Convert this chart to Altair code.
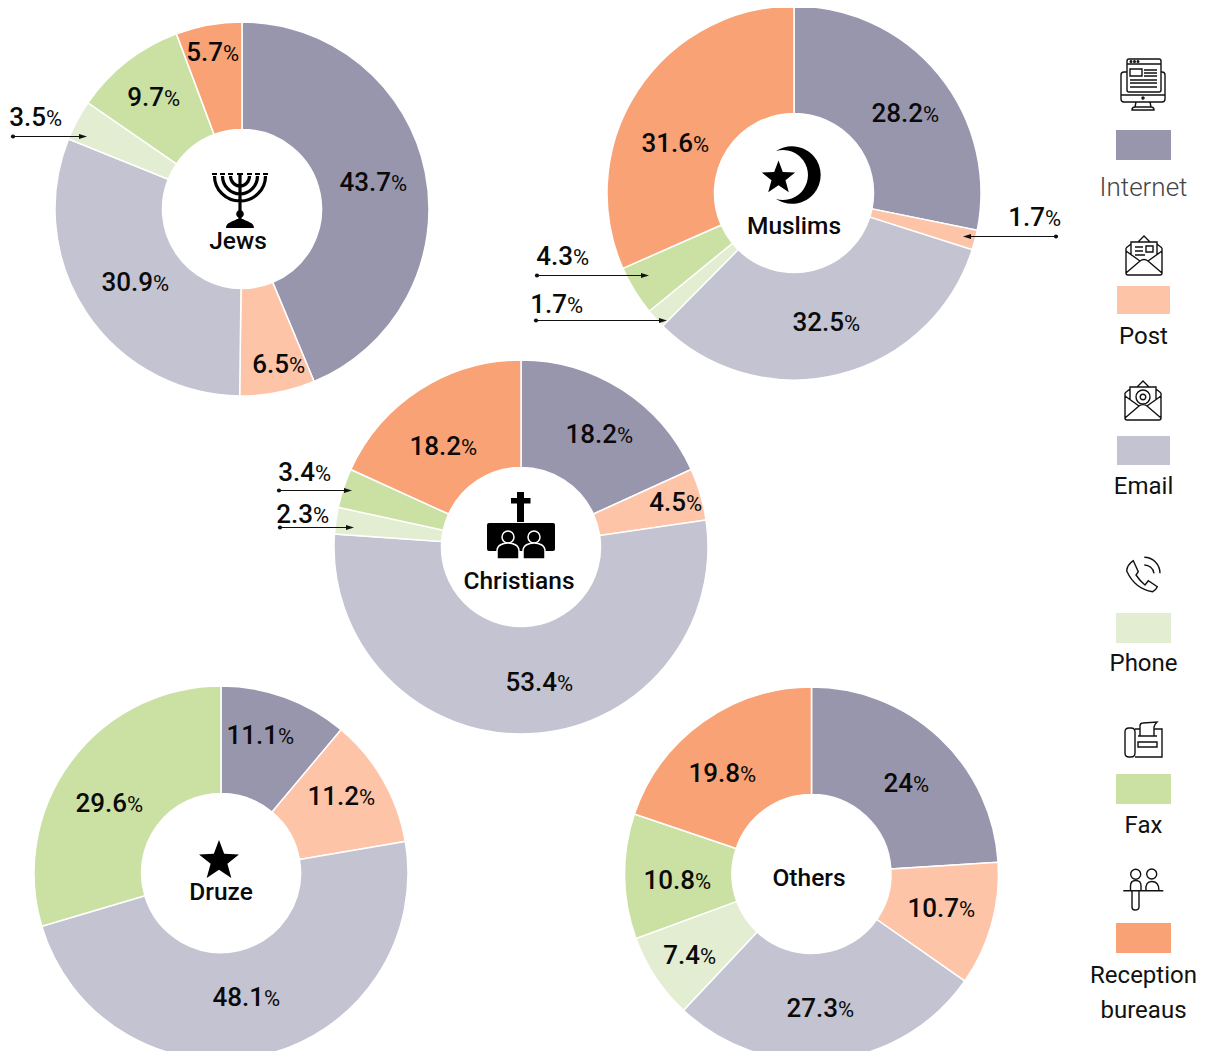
import math
import altair as alt
import pandas as pd

CATS = ["Internet", "Post", "Email", "Phone", "Fax", "Reception bureaus"]
COLORS = ["#9896AD", "#FDC4A8", "#C3C3D1", "#E2EDD1", "#CBE0A3", "#F9A276"]

JEWS = [43.7, 6.5, 30.9, 3.5, 9.7, 5.7]
MUSLIMS = [28.2, 1.7, 32.5, 1.7, 4.3, 31.6]
CHRISTIANS = [18.2, 4.5, 53.4, 2.3, 3.4, 18.2]
DRUZE = [11.1, 11.2, 48.1, 0, 29.6, 0]
OTHERS = [24, 10.7, 27.3, 7.4, 10.8, 19.8]

SERIES = {"Jews": JEWS, "Muslims": MUSLIMS, "Christians": CHRISTIANS, "Druze": DRUZE, "Others": OTHERS}

# layout (page pixels) -------------------------------------------------------
OFF = 8
CENTERS = {"Jews": (242, 209), "Muslims": (794, 193), "Christians": (521, 547), "Druze": (221, 873), "Others": (811.5, 874)}
NAME_AT = {"Jews": (238, 242), "Muslims": (794, 227), "Christians": (519, 582), "Druze": (221, 893), "Others": (809, 879)}
# split between number and % sign, and vertical centre of the digits
LABEL_AT = {
    "Jews": [(391, 182), (289, 364), (153, 282), (46, 117), (164, 97), (223, 52)],
    "Muslims": [(923, 113), (1045, 217), (844, 322), (567, 304), (573, 256), (693, 143)],
    "Christians": [(617, 434), (686, 502), (557, 682), (313, 514), (315, 472), (461, 446)],
    "Druze": [(278, 735), (359, 796), (264, 997), None, (127, 803), None],
    "Others": [(913, 783), (959, 908), (838, 1008), (700, 955), (695, 880), (740, 773)],
}
ARROWS = [(13, 85, 136.5), (1056, 965, 236.5), (537, 647, 275.5), (536, 665, 320.5), (279, 350, 490.5), (280, 352, 527.5)]
LEGEND_RECTS = [(1116, 1171, 130, 160), (1117, 1170, 286, 314), (1117, 1170, 436, 465), (1116, 1171, 613, 643), (1116, 1171, 774, 804), (1116, 1171, 923, 953)]
LEGEND_TEXT = [("Internet", 188), ("Post", 337), ("Email", 487), ("Phone", 664), ("Fax", 826), ("Reception", 976), ("bureaus", 1011)]
OUTER, INNER = 187, 79.5
FONT = "Roboto"

one = pd.DataFrame({"a": [0]})
layers = []

# donuts
for name, vals in SERIES.items():
    rows, acc = [], 0.0
    for c, v in zip(CATS, vals):
        if v > 0:
            rows.append({"cat": c, "start": acc, "end": acc + v})
        acc += v
    cx, cy = CENTERS[name]
    layers.append(
        alt.Chart(pd.DataFrame(rows)).mark_arc(radius=OUTER, radius2=INNER, stroke="white", strokeWidth=1.5).encode(
            x=alt.value(cx - OFF), y=alt.value(cy - OFF),
            theta=alt.Theta("start:Q", scale=alt.Scale(domain=[0, 100], range=[0, 2 * math.pi])),
            theta2="end:Q",
            color=alt.Color("cat:N", scale=alt.Scale(domain=CATS, range=COLORS), legend=None),
        )
    )

# value labels
lab = []
for name, vals in SERIES.items():
    for v, at in zip(vals, LABEL_AT[name]):
        if at is not None:
            lab.append({"n": f"{v:g}", "lx": at[0] - OFF, "ly": at[1] + 9 - OFF})
lab = pd.DataFrame(lab)
X = alt.X("lx:Q", scale=None)
Y = alt.Y("ly:Q", scale=None)
layers.append(alt.Chart(lab).mark_text(align="right", baseline="alphabetic", font=FONT, fontSize=26, fontWeight=500, color="#0a0a0a").encode(x=X, y=Y, text="n:N"))
layers.append(alt.Chart(lab).mark_text(align="left", baseline="alphabetic", font=FONT, fontSize=22, fontWeight=400, color="#0a0a0a").encode(x=X, y=Y, text=alt.value("%")))

# arrows
for x0, x1, y in ARROWS:
    layers.append(alt.Chart(one).mark_rule(color="#111", strokeWidth=1).encode(x=alt.value(x0 - OFF), x2=alt.value(x1 - OFF), y=alt.value(y - OFF)))
    layers.append(alt.Chart(one).mark_point(shape="circle", filled=True, color="#111", size=18, opacity=1).encode(x=alt.value(x0 - OFF), y=alt.value(y - OFF)))
    d = 1 if x1 > x0 else -1
    layers.append(alt.Chart(one).mark_point(shape=f"M{d*2},0 L{-d*6},-2.6 L{-d*6},2.6 Z", filled=True, color="#111", size=4, opacity=1).encode(x=alt.value(x1 - OFF), y=alt.value(y - OFF)))

# donut names
for name, (x, y) in NAME_AT.items():
    layers.append(alt.Chart(one).mark_text(text=name, font=FONT, fontSize=24.5, fontWeight=500, align="center", baseline="middle", color="#0a0a0a").encode(x=alt.value(x - OFF), y=alt.value(y - OFF)))

# legend
for (x0, x1, y0, y1), c in zip(LEGEND_RECTS, COLORS):
    layers.append(alt.Chart(one).mark_rect(color=c).encode(x=alt.value(x0 - OFF), x2=alt.value(x1 - OFF), y=alt.value(y0 - OFF), y2=alt.value(y1 - OFF)))
for t, y in LEGEND_TEXT:
    light = t == "Internet"
    layers.append(alt.Chart(one).mark_text(text=t, font=FONT, fontSize=26 if light else 24, fontWeight=300 if light else 400, align="center", baseline="middle", color="#444" if light else "#111").encode(x=alt.value(1143.5 - OFF), y=alt.value(y - OFF)))


# icons -----------------------------------------------------------------------
def circle(x, y, r):
    return f"M{x - r},{y} A{r},{r} 0 1 1 {x + r},{y} A{r},{r} 0 1 1 {x - r},{y} Z"


def rrect(x0, y0, x1, y1, r):
    return (f"M{x0 + r},{y0} L{x1 - r},{y0} Q{x1},{y0} {x1},{y0 + r} L{x1},{y1 - r} Q{x1},{y1} {x1 - r},{y1} "
            f"L{x0 + r},{y1} Q{x0},{y1} {x0},{y1 - r} L{x0},{y0 + r} Q{x0},{y0} {x0 + r},{y0} Z")


def star(r):
    pts = []
    for i in range(10):
        rr = r if i % 2 == 0 else r * 0.42
        a = math.pi * i / 5
        pts.append(f"{rr * math.sin(a):.2f},{-rr * math.cos(a):.2f}")
    return "M" + " L".join(pts) + " Z"


def icon(path, x, y, fill=None, stroke=None, sw=1.5):
    kw = {"shape": path, "size": 4, "opacity": 1}
    if fill:
        kw.update(filled=True, fill=fill)
    else:
        kw.update(filled=False, fill="transparent")
    if stroke:
        kw.update(stroke=stroke, strokeWidth=sw)
    else:
        kw.update(strokeWidth=0)
    layers.append(alt.Chart(one).mark_point(**kw).encode(x=alt.value(x - OFF), y=alt.value(y - OFF)))


# menorah
MEN = (240, 200)
icon("M-25.5,-24 A25.5,25 0 0 0 25.5,-24 M-17.5,-24 A17.5,18 0 0 0 17.5,-24 M-9.5,-24 A9.5,10 0 0 0 9.5,-24 M0,-25 L0,20", *MEN, stroke="#000", sw=3.2)
icon("M-28,-26 L-23,-26 M-20,-26 L-15,-26 M-12,-26 L-7,-26 M-3,-26 L3,-26 M7,-26 L12,-26 M15,-26 L20,-26 M23,-26 L28,-26", *MEN, stroke="#000", sw=2)
icon(circle(0, 14, 3.8) + " M-14,28 C-14,22 -7,22 -3,19 L3,19 C7,22 14,22 14,28 Z", *MEN, fill="#000")
# crescent and star
icon("M-16,-24 A28.8,28.8 0 1 1 -16,24 A25,25 0 1 0 -16,-24 Z", 792, 175, fill="#000")
icon(star(17.5), 778.5, 178, fill="#000")
# church
icon("M-3.5,-25 L3.5,-25 L3.5,-19 L10,-19 L10,-13.5 L3.5,-13.5 L3.5,5 L-3.5,5 L-3.5,-13.5 L-9.5,-13.5 L-9.5,-19 L-3.5,-19 Z", 520.5, 517, fill="#000")
icon(rrect(-34, -14, 34, 14, 2), 521, 537, fill="#000")
for px in (508, 534):
    icon(circle(0, 0, 6), px, 537, fill="#000", stroke="#fff", sw=1.5)
    icon("M-11,16 L-11,8 C-11,2 -5,0 0,0 C5,0 11,2 11,8 L11,16 Z", px, 543, fill="#000", stroke="#fff", sw=1.5)
# druze star
icon(star(21), 219, 861, fill="#000")

# monitor
IC = dict(stroke="#111", sw=1.4)
icon(rrect(-16, -26, 18, 7, 2) + " M-16,-21 L18,-21 " + rrect(-13, -16, -1, -9, 0) +
     " M1,-15 L14,-15 M1,-12 L14,-12 M1,-9 L14,-9 M-13,-5 L14,-5 M-13,-2 L14,-2 M-13,2 L14,2" +
     " M-16,-13 L-19,-13 Q-22,-13 -22,-10 L-22,14 Q-22,17 -19,17 L19,17 Q22,17 22,14 L22,-10 Q22,-13 19,-13 L18,-13" +
     " M-22,10 L-16,10 M18,10 L22,10 M-16,10 L18,10 M-7,17 L-8,22 M7,17 L8,22 M-11,25 Q-11,22 -8,22 L8,22 Q11,22 11,25 Z" +
     circle(0, 13, 1) + circle(-12, -23.5, 0.8) + circle(-8.5, -23.5, 0.8) + circle(-5, -23.5, 0.8), 1143, 85, **IC)
ENV = ("M-18,-8 L-18,17 Q-18,19 -16,19 L16,19 Q18,19 18,17 L18,-8 M-18,17 L-4,5 Q0,2 4,5 L18,17 "
       "M-18,-8 L-13,-12 M18,-8 L13,-12 M-18,-5 L-4,5 M18,-5 L4,5 M-13,-2 L-13,-14 L13,-14 L13,-2 M-6,-14 L0,-20 L6,-14")
# post
icon(ENV + " M-9,-9 L-1,-9 M-9,-5 L-1,-5 M-9,-1 L1,-1 " + rrect(2, -10, 9, -4, 0), 1144, 256, **IC)
# email
icon(ENV + circle(0, -4, 7) + circle(0, -4, 2.8), 1143, 401, **IC)
# phone
icon("M-9.7,-14.3 L-4.7,-3.3 L-7,0 Q-3,6 2,10 L5.3,5.7 L14.3,11.7 Q13,15 9.7,16.7 Q-8,14 -16.3,-4 Q-16,-10 -9.7,-14.3 Z"
     " M1.3,-17.7 A16,16 0 0 1 17,-1.7 M1.3,-10 A9.7,9.7 0 0 1 11,-1.7", 1143, 575, **IC)
# fax
icon("M-8,-11 L-3,-11 M11,-11 L19,-11 L19,17 L-8,17 " + rrect(-18, -12, -8, 17, 4) +
     " M-3,-4 L-3,-14 Q-3,-17 0,-17 L14,-18 Q12,-16 11,-13 L11,-4 M-5,-4 L14,-4 " + rrect(-5, 2, 14, 7, 0), 1143, 740, **IC)
# reception
icon(circle(-7.3, -15.7, 5) + circle(8.7, -16, 5) +
     " M-19.7,0.7 L20.3,0.7 M-12.5,0.7 L-12.5,-4 Q-12.5,-9.5 -7.3,-9.5 Q-2,-9.5 -2,-4 L-2,0.7 "
     "M-11,0.7 L-11,17 Q-11,20 -8,20 Q-4,20 -4,17 L-4,0.7 M3,0.7 Q2,-8.5 8.7,-8.5 Q16,-8.5 16,0.7", 1143, 890, **IC)

chart = alt.layer(*layers).properties(width=1192, height=1043, padding=0, autosize="none", background="white").configure_view(stroke=None, strokeWidth=0)
chart.save("out.html", embed_options={"renderer": "svg", "actions": False})
